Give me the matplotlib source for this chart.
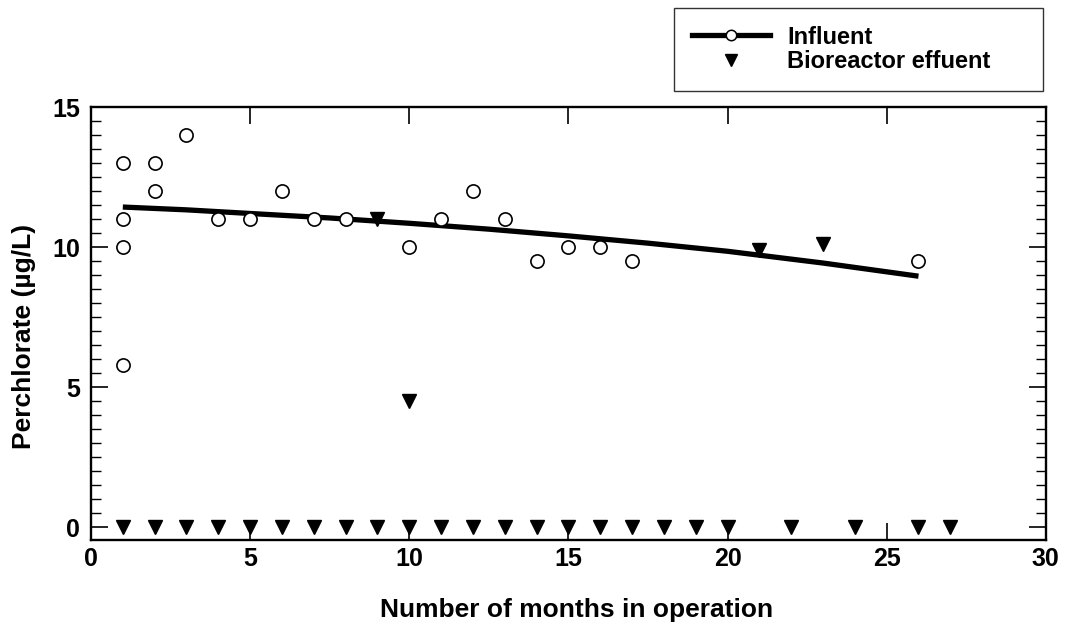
import matplotlib.pyplot as plt
from matplotlib.lines import Line2D

# influent measurements
inf_month = [1, 1, 1, 1, 2, 2, 3, 4, 5, 6, 7, 8, 10, 11, 12, 13, 14, 15, 16, 17, 26]
inf_conc = [13, 11, 10, 5.8, 13, 12, 14, 11, 11, 12, 11, 11, 10, 11, 12, 11, 9.5, 10, 10, 9.5, 9.5]

# trend line
fit_month = [1, 3, 5, 7.5, 10, 12.5, 15, 17.5, 20, 23, 26]
fit_conc = [11.43, 11.33, 11.2, 11.04, 10.85, 10.64, 10.4, 10.14, 9.85, 9.43, 8.96]

# bioreactor effluent
eff_month = list(range(1, 21)) + [22, 24, 26, 27] + [9, 10, 21, 23]
eff_conc = [0] * 24 + [11, 4.5, 9.9, 10.1]

plt.rcParams['font.family'] = ['Liberation Sans', 'DejaVu Sans']
plt.rcParams['font.weight'] = 'bold'

fig = plt.figure(figsize=(10.68, 6.3), dpi=100)
ax = fig.add_axes([0.0852, 0.143, 0.894, 0.687])

ax.plot(fit_month, fit_conc, color='black', lw=3.8, solid_capstyle='butt', zorder=2)
ax.plot(inf_month, inf_conc, 'o', ms=9.5, mfc='white', mec='black', mew=1.2, zorder=3)
ax.plot(eff_month, eff_conc, 'v', ms=10, color='black', zorder=4)

ax.set_xlim(0, 30)
ax.set_ylim(-0.46, 15)
ax.set_xticks([0, 5, 10, 15, 20, 25, 30])
ax.set_yticks([0, 5, 10, 15])
ax.set_yticks([v * 0.5 for v in range(0, 31)], minor=True)
ax.tick_params(axis='both', which='major', direction='in', length=12, width=1.2,
               top=True, right=True, labelsize=18)
ax.tick_params(axis='x', which='major', pad=5)
ax.tick_params(axis='y', which='major', pad=8)
ax.tick_params(axis='y', which='minor', direction='in', length=7, width=1.0, right=True)
for lab in ax.get_xticklabels() + ax.get_yticklabels():
    lab.set_fontweight('bold')
for s in ax.spines.values():
    s.set_linewidth(1.7)

ax.set_xlabel('Number of months in operation', fontsize=19, fontweight='bold')
ax.set_ylabel('Perchlorate (µg/L)', fontsize=19, fontweight='bold')
ax.xaxis.set_label_coords(0.509, -0.134)
ax.yaxis.set_label_coords(-0.058, 0.469)

handles = [
    Line2D([], [], color='black', lw=3.8, marker='o', ms=7.5, mfc='white', mec='black', mew=1.1),
    Line2D([], [], color='black', lw=0, marker='v', ms=8),
]
leg = ax.legend(handles, ['Influent', 'Bioreactor effuent'],
                bbox_to_anchor=(0.631, 0.5, 0.3455, 0.4873), bbox_transform=fig.transFigure,
                loc='upper left', mode='expand', fontsize=17, frameon=True, fancybox=False,
                handlelength=3.3, handletextpad=0.75, labelspacing=0.05,
                borderpad=0.75, borderaxespad=0)
leg.get_frame().set_edgecolor('black')
leg.get_frame().set_linewidth(1.0)
for t in leg.get_texts():
    t.set_fontweight('bold')

fig.savefig('out.png', dpi=100)
